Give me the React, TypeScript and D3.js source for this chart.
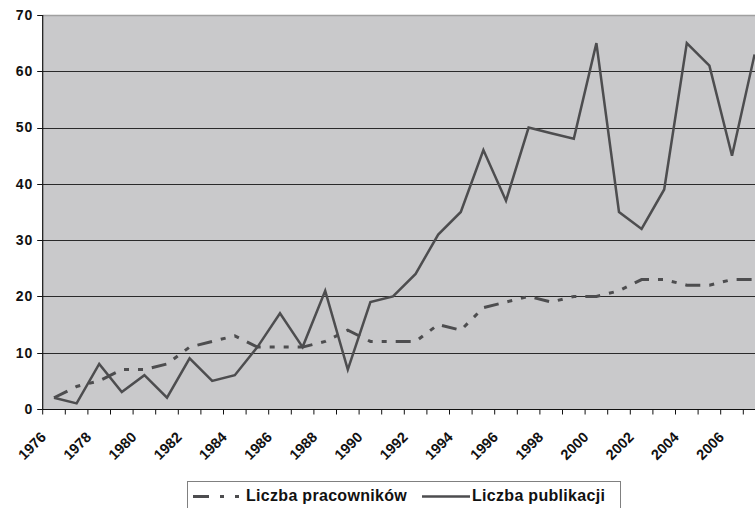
import React from "react";
import * as d3 from "d3";

const years = d3.range(1976, 2008).map(String);
const pracownicy = [2, 4, 5, 7, 7, 8, 11, 12, 13, 11, 11, 11, 12, 14, 12, 12, 12, 15, 14, 18, 19, 20, 19, 20, 20, 21, 23, 23, 22, 22, 23, 23];
const publikacje = [2, 1, 8, 3, 6, 2, 9, 5, 6, 11, 17, 11, 21, 7, 19, 20, 24, 31, 35, 46, 37, 50, 49, 48, 65, 35, 32, 39, 65, 61, 45, 63];
const yTicks = [0, 10, 20, 30, 40, 50, 60, 70];
const xLabelYears = years.filter((_, i) => i % 2 === 0);
const seriesNames = ["Liczba pracowników", "Liczba publikacji"];

const W = 755, H = 508;
const left = 42.7, top = 15, bottom = 409;
const band = 22.6;
const FONT = "'Liberation Sans', Arial, Helvetica, sans-serif";
const DASH = "15,9,5,9,5,9";
const LINE = "#4d4d4f";

export default function App() {
  const x = d3.scaleBand<string>().domain(years).range([left, left + band * years.length]);
  const y = d3.scaleLinear().domain([0, 70]).range([bottom, top]);
  const cx = (yr: string) => (x(yr) as number) + x.bandwidth() / 2;
  const line = d3.line<number>().x((_, i) => cx(years[i])).y((d) => y(d));
  const right = left + band * years.length;

  return (
    <svg width={W} height={H} style={{ position: "absolute", left: 0, top: 0, display: "block" }} fontFamily={FONT}>
      <rect x={0} y={0} width={W} height={H} fill="#fff" />
      <rect x={left} y={top} width={right - left} height={bottom - top} fill="#c9c9cb" />
      <line x1={left} x2={right} y1={top + 0.5} y2={top + 0.5} stroke="#a0a0a0" strokeWidth={1.5} />
      {yTicks.filter((t) => t > 0 && t < 70).map((t) => (
        <line key={t} x1={left} x2={right} y1={Math.round(y(t)) + 0.5} y2={Math.round(y(t)) + 0.5} stroke="#2a2a2a" strokeWidth={1} />
      ))}
      <line x1={left} x2={left} y1={top} y2={bottom} stroke="#111" strokeWidth={1.2} />
      <line x1={left} x2={right} y1={bottom + 0.5} y2={bottom + 0.5} stroke="#111" strokeWidth={1.2} />
      {yTicks.map((t) => (
        <g key={t}>
          <line x1={left - 5.5} x2={left} y1={Math.round(y(t)) + 0.5} y2={Math.round(y(t)) + 0.5} stroke="#111" strokeWidth={1} />
          <text x={33} y={y(t)} dy="0.35em" textAnchor="end" fontSize={14} fontWeight="bold" fill="#111" letterSpacing={0.8}>{t}</text>
        </g>
      ))}
      {years.concat(["end"]).map((yr, i) => {
        const xx = left + i * band;
        return <line key={yr} x1={xx} x2={xx} y1={bottom} y2={bottom + 5.5} stroke="#111" strokeWidth={1} />;
      })}
      {xLabelYears.map((yr) => (
        <g key={yr} transform={`translate(${cx(yr) - 7},438)`}>
          <g transform="rotate(-45)">
            <text x={0} y={0} textAnchor="end" fontSize={14.5} fontWeight="bold" fill="#111">{yr}</text>
          </g>
        </g>
      ))}
      <path d={line(pracownicy) as string} fill="none" stroke={LINE} strokeWidth={3} strokeDasharray={DASH} />
      <path d={line(publikacje) as string} fill="none" stroke={LINE} strokeWidth={2.5} strokeLinejoin="miter" />
      <rect x={187.5} y={481.5} width={433} height={40} fill="#fff" stroke="#808080" strokeWidth={1} />
      <line x1={193} x2={240} y1={496.5} y2={496.5} stroke={LINE} strokeWidth={3} strokeDasharray="16,11,4,11,4,11" />
      <text x={246} y={500.5} fontSize={16} fontWeight="bold" fill="#111" letterSpacing={0.3}>{seriesNames[0]}</text>
      <line x1={422} x2={470} y1={496.5} y2={496.5} stroke={LINE} strokeWidth={2.5} />
      <text x={472} y={500.5} fontSize={16} fontWeight="bold" fill="#111" letterSpacing={0.3}>{seriesNames[1]}</text>
    </svg>
  );
}
